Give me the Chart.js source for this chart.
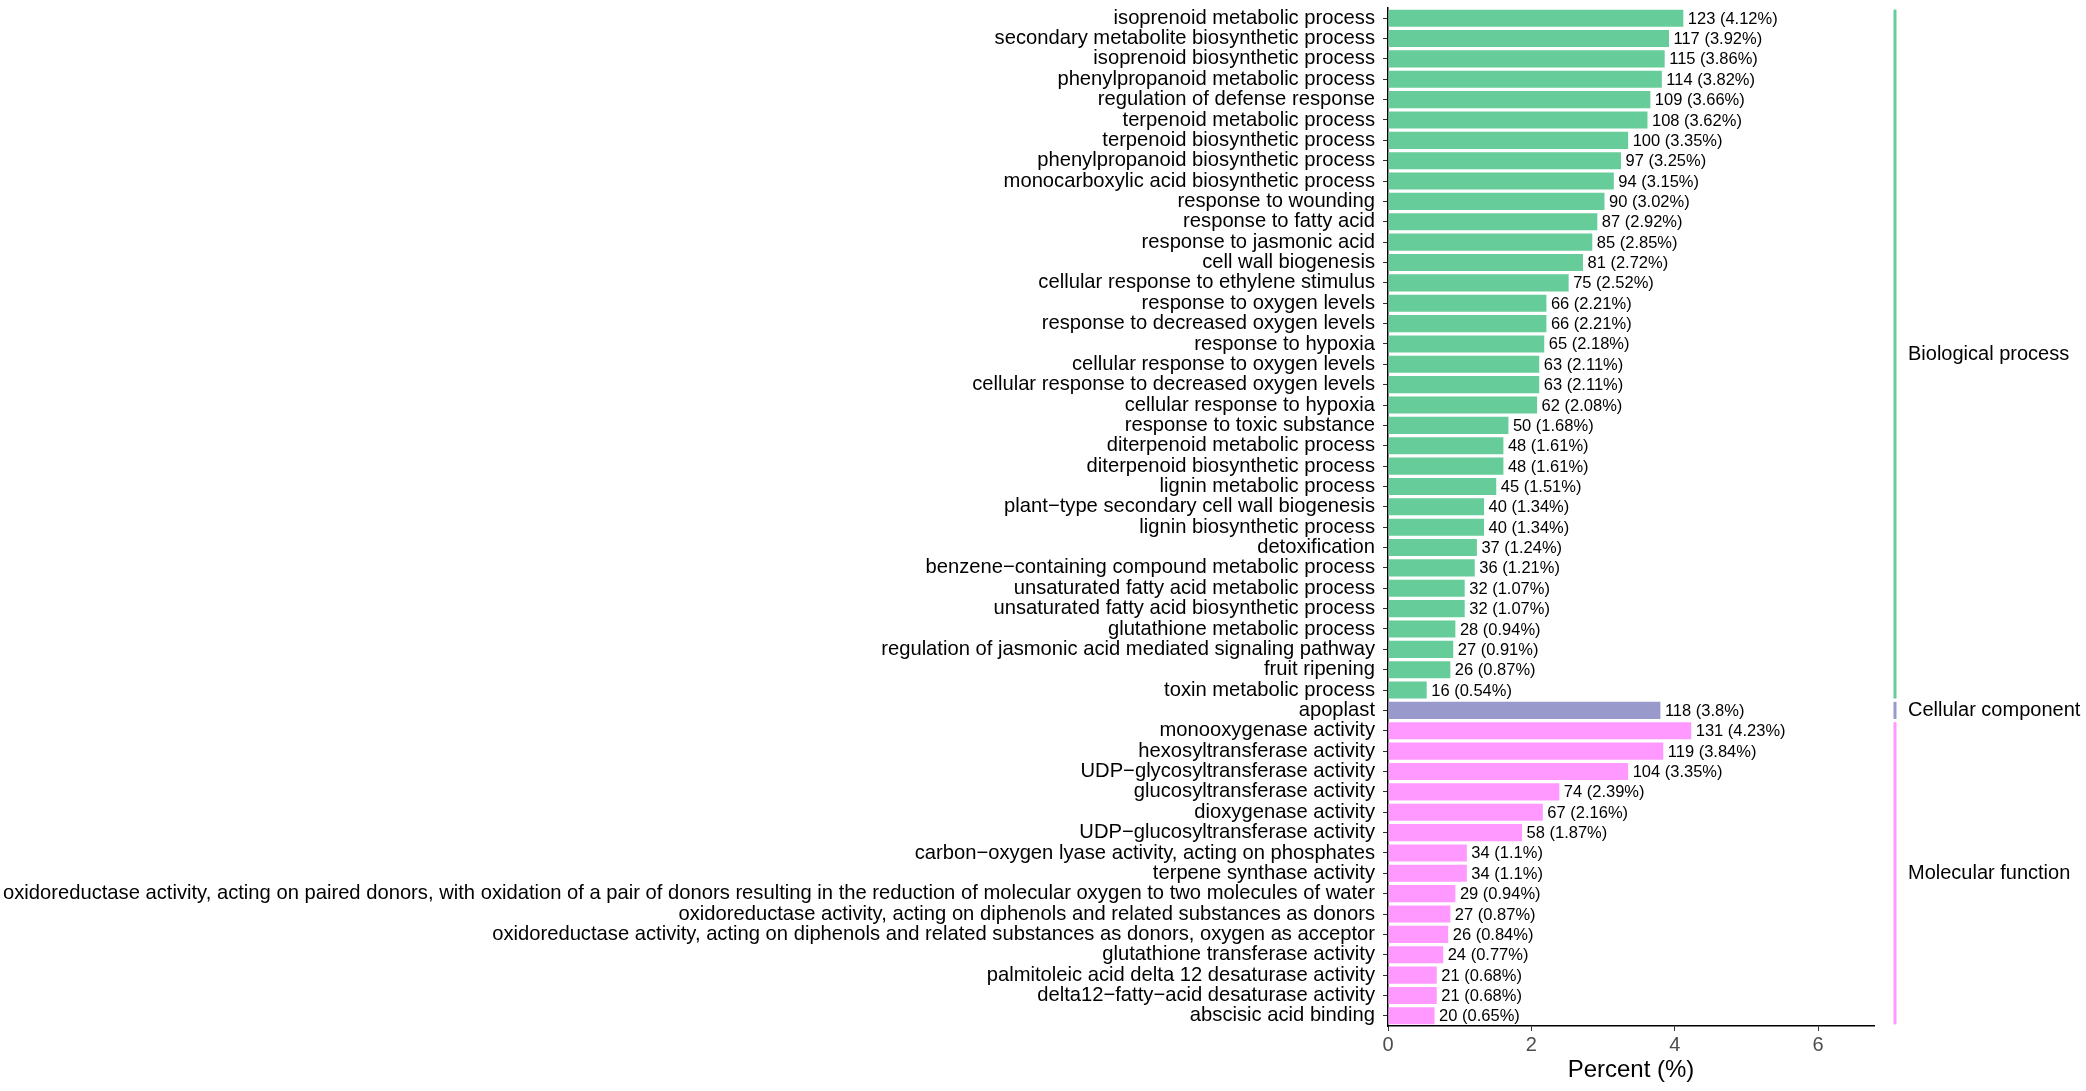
<!DOCTYPE html>
<html>
<head>
<meta charset="utf-8">
<script src="https://cdn.jsdelivr.net/npm/chart.js@4.4.1/dist/chart.umd.min.js"></script>
<style>
html,body{margin:0;padding:0;background:#fff;}
#wrap{width:2086px;height:1091px;}
</style>
</head>
<body>
<div id="wrap"><canvas id="c" width="2086" height="1091"></canvas></div>
<script>
const categories = [
  "isoprenoid metabolic process",
  "secondary metabolite biosynthetic process",
  "isoprenoid biosynthetic process",
  "phenylpropanoid metabolic process",
  "regulation of defense response",
  "terpenoid metabolic process",
  "terpenoid biosynthetic process",
  "phenylpropanoid biosynthetic process",
  "monocarboxylic acid biosynthetic process",
  "response to wounding",
  "response to fatty acid",
  "response to jasmonic acid",
  "cell wall biogenesis",
  "cellular response to ethylene stimulus",
  "response to oxygen levels",
  "response to decreased oxygen levels",
  "response to hypoxia",
  "cellular response to oxygen levels",
  "cellular response to decreased oxygen levels",
  "cellular response to hypoxia",
  "response to toxic substance",
  "diterpenoid metabolic process",
  "diterpenoid biosynthetic process",
  "lignin metabolic process",
  "plant\u2212type secondary cell wall biogenesis",
  "lignin biosynthetic process",
  "detoxification",
  "benzene\u2212containing compound metabolic process",
  "unsaturated fatty acid metabolic process",
  "unsaturated fatty acid biosynthetic process",
  "glutathione metabolic process",
  "regulation of jasmonic acid mediated signaling pathway",
  "fruit ripening",
  "toxin metabolic process",
  "apoplast",
  "monooxygenase activity",
  "hexosyltransferase activity",
  "UDP\u2212glycosyltransferase activity",
  "glucosyltransferase activity",
  "dioxygenase activity",
  "UDP\u2212glucosyltransferase activity",
  "carbon\u2212oxygen lyase activity, acting on phosphates",
  "terpene synthase activity",
  "oxidoreductase activity, acting on paired donors, with oxidation of a pair of donors resulting in the reduction of molecular oxygen to two molecules of water",
  "oxidoreductase activity, acting on diphenols and related substances as donors",
  "oxidoreductase activity, acting on diphenols and related substances as donors, oxygen as acceptor",
  "glutathione transferase activity",
  "palmitoleic acid delta 12 desaturase activity",
  "delta12\u2212fatty\u2212acid desaturase activity",
  "abscisic acid binding"
];
const counts = [123,117,115,114,109,108,100,97,94,90,87,85,81,75,66,66,65,63,63,62,50,48,48,45,40,40,37,36,32,32,28,27,26,16,
  118,
  131,119,104,74,67,58,34,34,29,27,26,24,21,21,20];
const percents = [4.12,3.92,3.86,3.82,3.66,3.62,3.35,3.25,3.15,3.02,2.92,2.85,2.72,2.52,2.21,2.21,2.18,2.11,2.11,2.08,1.68,1.61,1.61,1.51,1.34,1.34,1.24,1.21,1.07,1.07,0.94,0.91,0.87,0.54,
  3.8,
  4.23,3.84,3.35,2.39,2.16,1.87,1.1,1.1,0.94,0.87,0.84,0.77,0.68,0.68,0.65];
const groupNames = ["Biological process","Cellular component","Molecular function"];
const groupSizes = [34,1,15];
const groupColors = ["#66CC99","#9999CC","#FF99FF"];
const xTicks = [0,2,4,6];

const FONT = "'Liberation Sans', Arial, Helvetica, sans-serif";

const barColors = [];
groupSizes.forEach((n,g)=>{ for(let i=0;i<n;i++) barColors.push(groupColors[g]); });

const valueLabels = {
  id:'valueLabels',
  afterDatasetsDraw(chart){
    const ctx = chart.ctx;
    const meta = chart.getDatasetMeta(0);
    ctx.save();
    ctx.font = "16.5px " + FONT;
    ctx.fillStyle = "#000";
    ctx.textAlign = "left";
    ctx.textBaseline = "middle";
    meta.data.forEach((bar,i)=>{
      ctx.fillText(counts[i] + " (" + percents[i] + "%)", bar.x + 4.5, bar.y + 1);
    });
    ctx.restore();
  }
};

const groupStrips = {
  id:'groupStrips',
  afterDraw(chart){
    const ctx = chart.ctx;
    const y = chart.scales.y;
    const band = y.getPixelForValue(1) - y.getPixelForValue(0);
    const lx = chart.chartArea.right + 21;
    let start = 0;
    ctx.save();
    groupSizes.forEach((n,g)=>{
      const top = y.getPixelForValue(start) - band*0.42;
      const bot = y.getPixelForValue(start+n-1) + band*0.42;
      ctx.fillStyle = groupColors[g];
      ctx.fillRect(lx-1.5, top, 3, bot-top);
      ctx.fillStyle = "#000";
      ctx.font = "20px " + FONT;
      ctx.textAlign = "left";
      ctx.textBaseline = "middle";
      ctx.fillText(groupNames[g], lx + 13, (top+bot)/2);
      start += n;
    });
    ctx.restore();
  }
};

new Chart(document.getElementById('c'), {
  type:'bar',
  data:{
    labels:categories,
    datasets:[{
      data:percents,
      backgroundColor:barColors,
      borderWidth:0,
      barPercentage:0.84,
      categoryPercentage:1.0
    }]
  },
  options:{
    indexAxis:'y',
    responsive:false,
    animation:false,
    devicePixelRatio:1,
    layout:{padding:{left:0,right:212,top:8,bottom:0}},
    plugins:{legend:{display:false},tooltip:{enabled:false}},
    scales:{
      y:{
        type:'category',
        offset:true,
        afterFit(scale){ scale.width = 1388; scale.paddingTop = 0; scale.paddingBottom = 0; },
        grid:{display:true,drawOnChartArea:false,drawTicks:true,tickLength:5,color:'#333',offset:false},
        border:{display:true,color:'#000',width:1.5},
        ticks:{autoSkip:false,color:'#000',padding:8,font:{family:FONT,size:20.2}}
      },
      x:{
        type:'linear',
        min:0,
        max:6.78,
        afterBuildTicks(scale){ scale.ticks = xTicks.map(v=>({value:v})); },
        afterFit(scale){ scale.height = 65; },
        grid:{display:true,drawOnChartArea:false,drawTicks:true,tickLength:5,color:'#333'},
        border:{display:true,color:'#000',width:1.5},
        ticks:{color:'#4d4d4d',padding:2,font:{family:FONT,size:20},maxRotation:0},
        title:{display:true,text:'Percent (%)',color:'#000',font:{family:FONT,size:24},padding:{top:0,bottom:6}}
      }
    }
  },
  plugins:[valueLabels,groupStrips]
});
</script>
</body>
</html>
